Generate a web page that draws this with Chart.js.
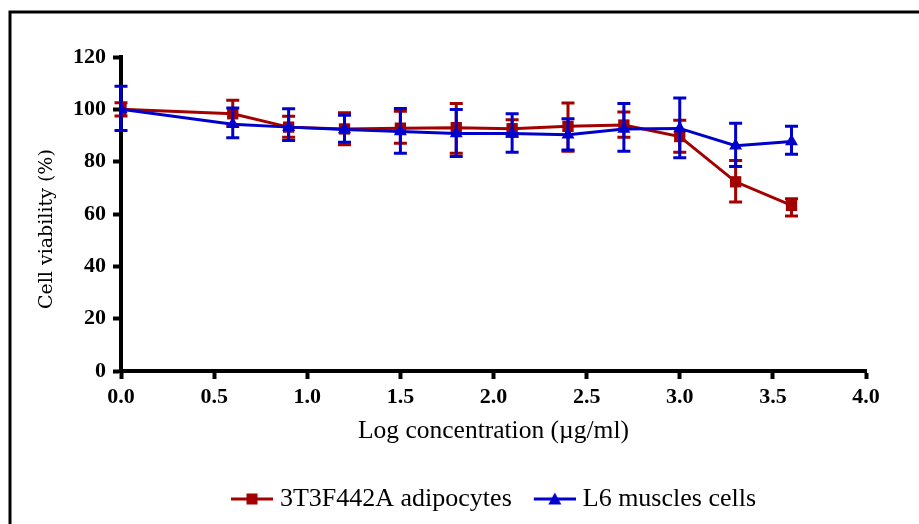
<!DOCTYPE html>
<html><head><meta charset="utf-8">
<script src="https://cdn.jsdelivr.net/npm/chart.js@4.4.1/dist/chart.umd.min.js"></script>
<style>html,body{margin:0;padding:0;background:#fff}#wrap{width:919px;height:524px;position:relative}</style>
</head><body><div id="wrap"><canvas id="c" width="919" height="524"></canvas></div>
<script>
// ---- data ----
const logConc = [0, 0.6, 0.9, 1.2, 1.5, 1.8, 2.1, 2.4, 2.7, 3.0, 3.3, 3.6];
const adipoMean = [100, 98.3, 93.2, 92.5, 92.8, 93.0, 92.6, 93.5, 94.0, 89.6, 72.3, 63.3];
const adipoHigh = [102.5, 103.5, 97.4, 98.7, 99.3, 102.2, 96.0, 102.4, 99.0, 95.8, 80.4, 65.8];
const adipoLow  = [97.5, 93.6, 89.3, 86.5, 87.0, 83.2, 89.6, 84.0, 89.3, 83.6, 64.6, 59.2];
const muscleMean = [100, 94.3, 93.2, 92.3, 91.5, 90.8, 90.8, 90.3, 92.5, 92.7, 86.1, 87.7];
const muscleHigh = [108.8, 100.5, 100.2, 97.7, 100.3, 99.9, 98.3, 96.4, 102.2, 104.3, 94.7, 93.5];
const muscleLow  = [91.9, 89.1, 88.1, 87.4, 83.2, 82.0, 83.6, 84.5, 84.0, 81.5, 78.2, 82.8];
const seriesNames = ['3T3F442A adipocytes', 'L6 muscles cells'];
const xTitle = 'Log concentration (\u00b5g/ml)';
const yTitle = 'Cell viability (%)';

const RED = '#a30000', BLUE = '#0000cc';

function pts(xs, ys) { return xs.map((x, i) => ({x: x, y: ys[i]})); }

function legendImg(color, style) {
  const c = document.createElement('canvas');
  c.width = 48; c.height = 16;
  const g = c.getContext('2d');
  g.strokeStyle = color; g.fillStyle = color; g.lineWidth = 3;
  g.beginPath(); g.moveTo(6, 8); g.lineTo(48, 8); g.stroke();
  if (style === 'rect') { g.fillRect(27 - 5.5, 8 - 5.5, 11, 11); }
  else { g.beginPath(); g.moveTo(27, 1.5); g.lineTo(33.5, 13.5); g.lineTo(20.5, 13.5); g.closePath(); g.fill(); }
  return c;
}
const legendImgs = [legendImg(RED, 'rect'), legendImg(BLUE, 'tri')];

const errorBars = {
  id: 'errorBars',
  beforeDatasetDraw(chart, args) {
    const ds = chart.data.datasets[args.index];
    const meta = args.meta;
    const ys = chart.scales.y;
    const ctx = chart.ctx;
    ctx.save();
    ctx.strokeStyle = ds.borderColor;
    ctx.lineWidth = 3;
    meta.data.forEach((pt, i) => {
      const x = pt.x;
      const yh = ys.getPixelForValue(ds.errHigh[i]);
      const yl = ys.getPixelForValue(ds.errLow[i]);
      ctx.beginPath();
      ctx.moveTo(x, yh); ctx.lineTo(x, yl);
      ctx.moveTo(x - 6.5, yh); ctx.lineTo(x + 6.5, yh);
      ctx.moveTo(x - 6.5, yl); ctx.lineTo(x + 6.5, yl);
      ctx.stroke();
    });
    ctx.restore();
  }
};

const frame = {
  id: 'frame',
  beforeDraw(chart) {
    const ctx = chart.ctx;
    ctx.save();
    ctx.fillStyle = '#fff';
    ctx.fillRect(0, 0, chart.width, chart.height);
    ctx.strokeStyle = '#000';
    ctx.lineWidth = 3;
    ctx.beginPath();
    ctx.moveTo(10, 524); ctx.lineTo(10, 12); ctx.lineTo(919, 12);
    ctx.stroke();
    ctx.restore();
  }
};

new Chart(document.getElementById('c'), {
  type: 'line',
  data: {
    datasets: [
      { label: seriesNames[0], data: pts(logConc, adipoMean), errHigh: adipoHigh, errLow: adipoLow,
        borderColor: RED, backgroundColor: RED, borderWidth: 3, pointStyle: 'rect', pointRadius: 8,
        pointBorderWidth: 0, order: 2, tension: 0 },
      { label: seriesNames[1], data: pts(logConc, muscleMean), errHigh: muscleHigh, errLow: muscleLow,
        borderColor: BLUE, backgroundColor: BLUE, borderWidth: 3, pointStyle: 'triangle', pointRadius: 7.5,
        pointBorderWidth: 0, order: 1, tension: 0 }
    ]
  },
  options: {
    responsive: false,
    animation: false,
    events: [],
    layout: { padding: { left: 12, top: 57, right: 53, bottom: 2 } },
    scales: {
      x: {
        type: 'linear', min: 0, max: 4,
        afterFit(s) { s.height = 93; },
        ticks: { stepSize: 0.5, color: '#000', padding: 5, maxRotation: 0,
          font: { family: 'Liberation Serif', size: 22, weight: 'bold' },
          callback: v => Number(v).toFixed(1) },
        grid: { drawOnChartArea: false, drawTicks: true, tickLength: 8, tickWidth: 4, tickColor: '#000', color: '#000' },
        border: { display: true, width: 4, color: '#000' },
        title: { display: true, text: xTitle, color: '#000', padding: { top: 0, bottom: 17 },
          font: { family: 'Liberation Serif', size: 25.5 } }
      },
      y: {
        type: 'linear', min: 0, max: 120,
        afterFit(s) { s.width = 109; },
        ticks: { stepSize: 20, color: '#000', padding: 7,
          font: { family: 'Liberation Serif', size: 22, weight: 'bold' } },
        grid: { drawOnChartArea: false, drawTicks: true, tickLength: 8, tickWidth: 4, tickColor: '#000', color: '#000' },
        border: { display: true, width: 4, color: '#000' },
        title: { display: true, text: yTitle + '\u00a0\u00a0\u00a0\u00a0\u00a0', color: '#000', padding: { top: 24, bottom: 0 },
          font: { family: 'DejaVu Serif', size: 19 } }
      }
    },
    plugins: {
      tooltip: { enabled: false },
      legend: {
        position: 'bottom', fullSize: false, maxHeight: 60,
        labels: {
          usePointStyle: true, pointStyleWidth: 36, padding: 22, color: '#000',
          font: { family: 'Liberation Serif', size: 26 },
          generateLabels(chart) {
            return chart.data.datasets.map((d, i) => ({
              text: d.label, pointStyle: legendImgs[i], fillStyle: d.borderColor, strokeStyle: d.borderColor,
              lineWidth: 0, hidden: false, datasetIndex: i, fontColor: '#000'
            }));
          }
        }
      }
    }
  },
  plugins: [frame, errorBars]
});
</script></body></html>
